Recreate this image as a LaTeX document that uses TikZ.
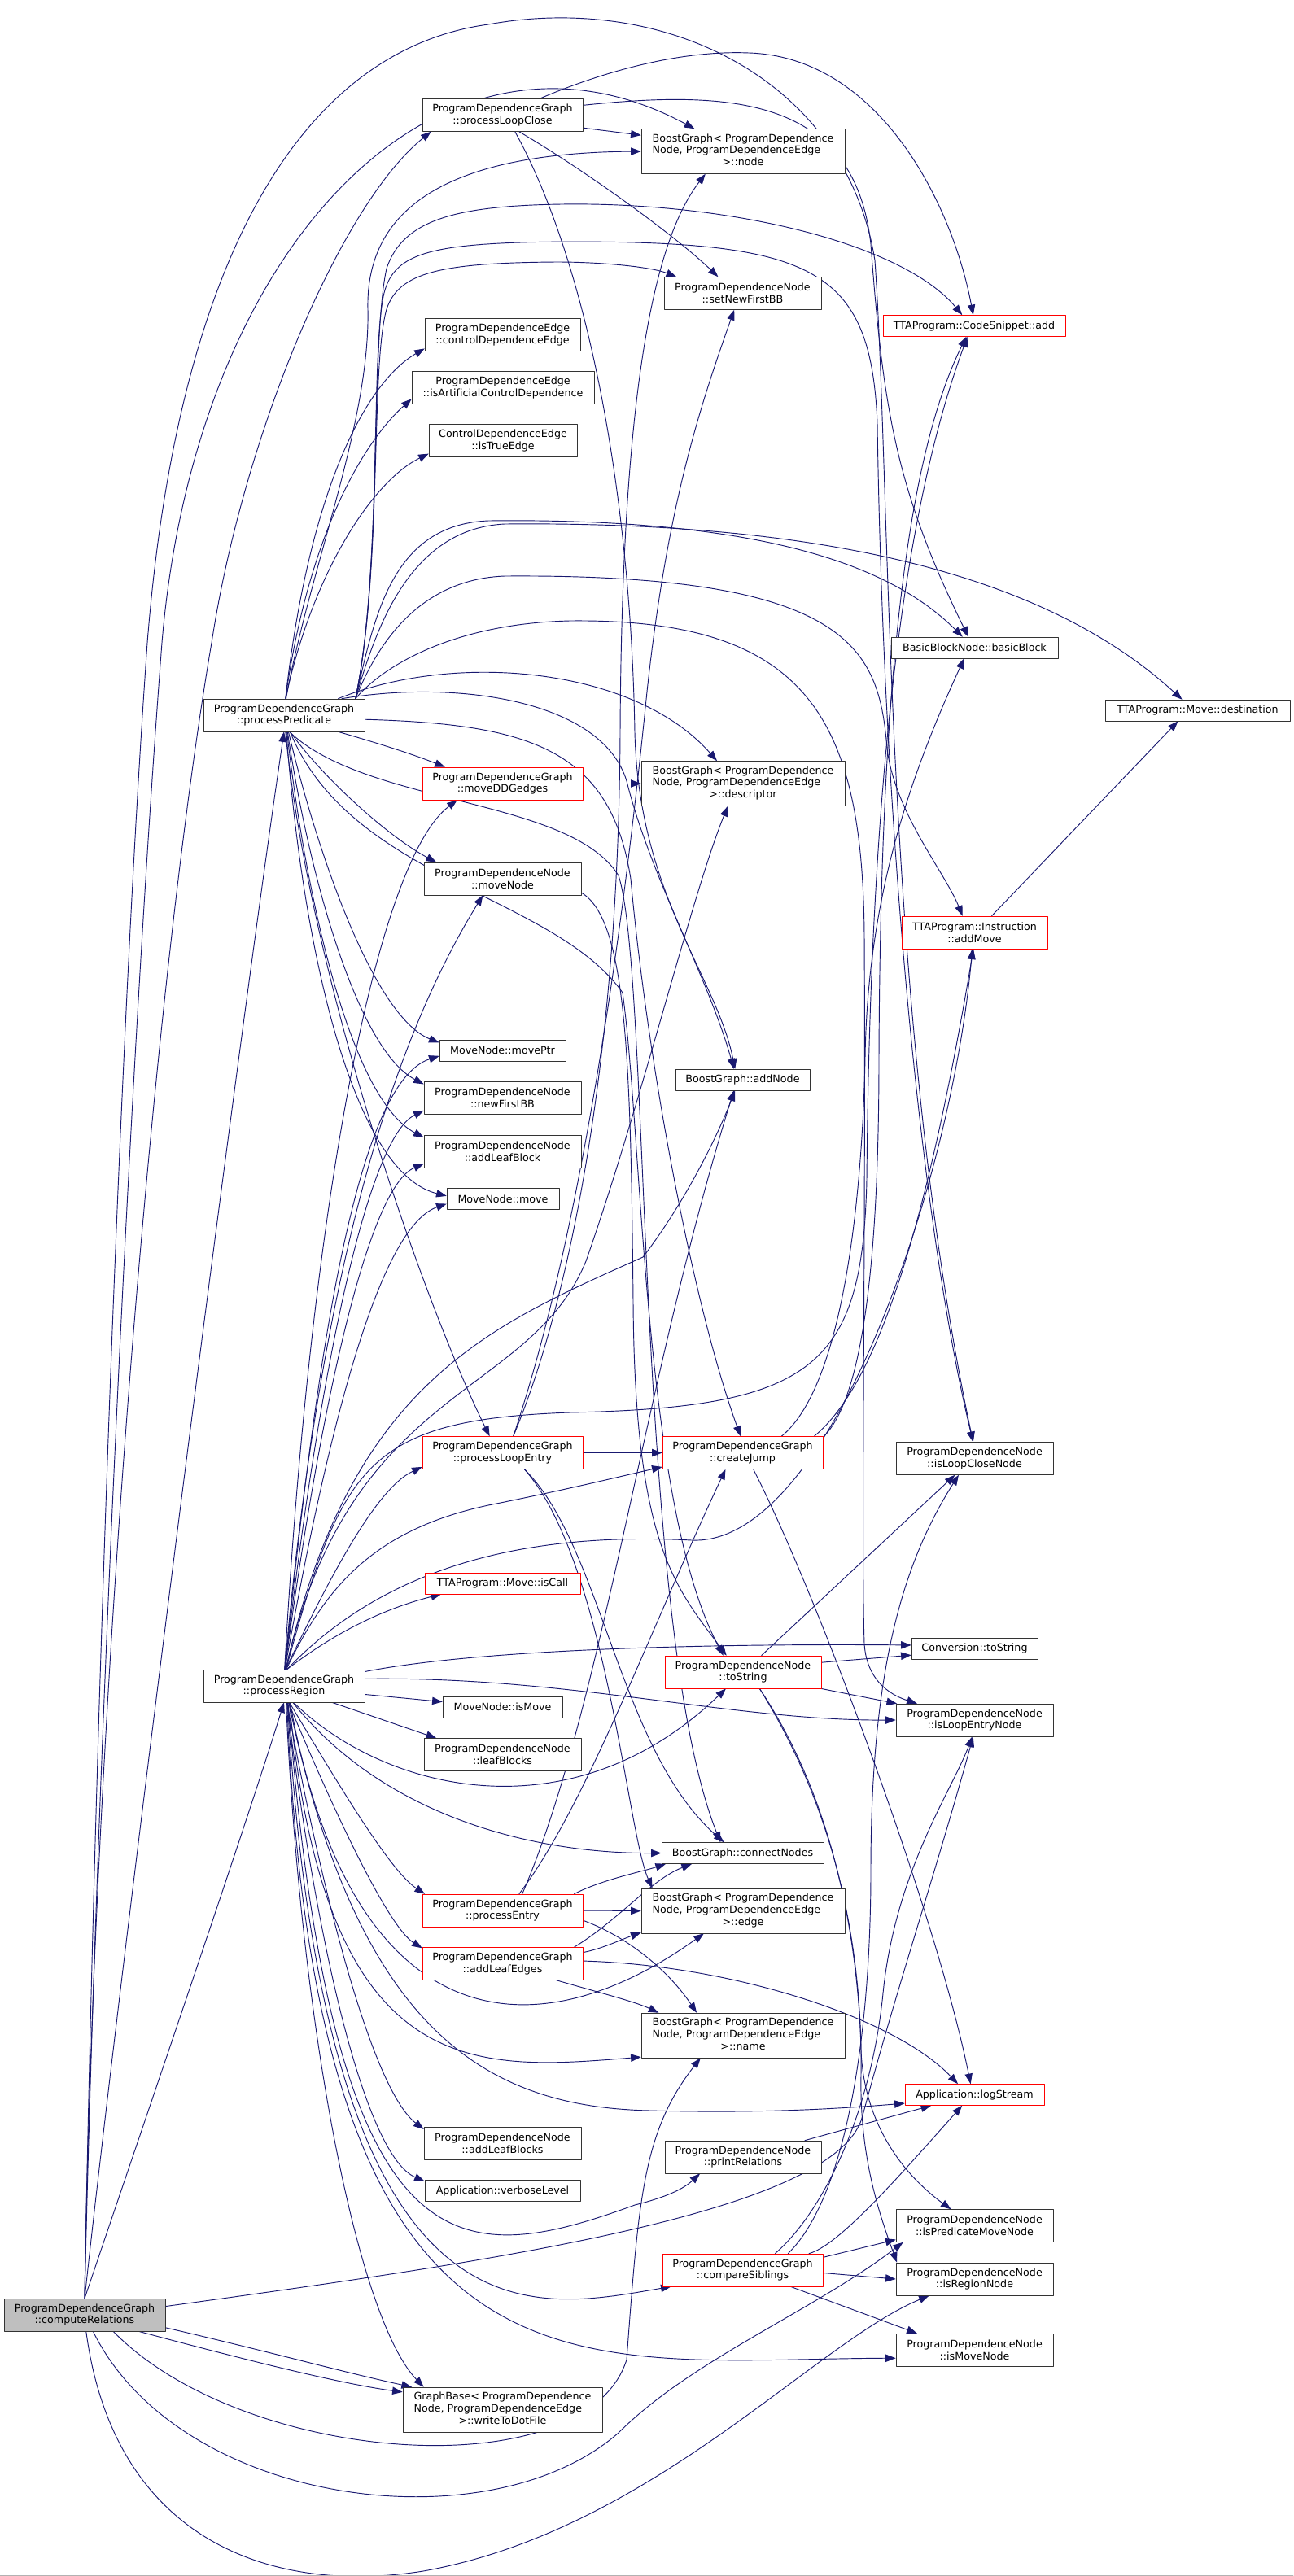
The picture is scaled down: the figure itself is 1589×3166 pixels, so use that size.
\documentclass[tikz,border=0pt]{standalone}
\usepackage{fontspec}
\newfontfamily\dxfont{DejaVu Sans}
\usetikzlibrary{arrows.meta}
\definecolor{edgeblue}{RGB}{25,25,112}
\pgfdeclarelayer{background}
\pgfsetlayers{background,main}
\newcommand{\bgtxt}[2]{\begin{tabular}{@{}l@{}}#1< ProgramDependence\\Node, ProgramDependenceEdge\\\multicolumn{1}{@{}c@{}}{>::#2}\end{tabular}}

\begin{document}
\begin{tikzpicture}[line cap=round,line join=round,x=0.75pt,y=-0.75pt,
  fn/.style={draw=black!80,fill=white,inner sep=0pt,align=center,font=\dxfont\fontsize{9.5}{11.1}\selectfont},
  wd/.style={minimum width=#1*0.75pt},
  one/.style={minimum height=19.5pt},
  two/.style={minimum height=30pt},
  three/.style={minimum height=41.25pt},
  hot/.style={draw=red},
  cl/.style={draw=edgeblue,line width=0.7pt,-{Triangle[length=9.5pt,width=7pt]}}]
\useasboundingbox (0,0) rectangle (1589,3166);
\draw[black!30] (0,3165) -- (1589,3165);
% callers
\node[fn,wd=198,two,fill=gray!50] (cr) at (104,2845) {ProgramDependenceGraph\\::computeRelations};
\node[fn,wd=198,two] (pp) at (349,879) {ProgramDependenceGraph\\::processPredicate};
\node[fn,wd=198,two] (pr) at (349,2072) {ProgramDependenceGraph\\::processRegion};
% third column
\node[fn,wd=197,two] (plc) at (617.5,141.5) {ProgramDependenceGraph\\::processLoopClose};
\node[fn,wd=191,two] (cde) at (617.5,411.5) {ProgramDependenceEdge\\::controlDependenceEdge};
\node[fn,wd=224,two] (iacd) at (618,476.5) {ProgramDependenceEdge\\::isArtificialControlDependence};
\node[fn,wd=182,two] (ite) at (618,541.5) {ControlDependenceEdge\\::isTrueEdge};
\node[fn,hot,wd=197,two] (mdd) at (617.5,963) {ProgramDependenceGraph\\::moveDDGedges};
\node[fn,wd=193,two] (mn) at (617.5,1080) {ProgramDependenceNode\\::moveNode};
\node[fn,wd=155,one] (moveptr) at (617.5,1291) {MoveNode::movePtr};
\node[fn,wd=193,two] (nfbb) at (617.5,1349.5) {ProgramDependenceNode\\::newFirstBB};
\node[fn,wd=193,two] (alb) at (617.5,1415) {ProgramDependenceNode\\::addLeafBlock};
\node[fn,wd=138,one] (mv) at (618,1473.5) {MoveNode::move};
\node[fn,hot,wd=197,two] (ple) at (617.5,1785.5) {ProgramDependenceGraph\\::processLoopEntry};
\node[fn,hot,wd=191,one] (iscall) at (617.5,1946) {TTAProgram::Move::isCall};
\node[fn,wd=147,one] (ismove) at (617.5,2098) {MoveNode::isMove};
\node[fn,wd=193,two] (lb) at (617.5,2156.5) {ProgramDependenceNode\\::leafBlocks};
\node[fn,hot,wd=197,two] (pe) at (617.5,2348) {ProgramDependenceGraph\\::processEntry};
\node[fn,hot,wd=197,two] (ale) at (617.5,2413.5) {ProgramDependenceGraph\\::addLeafEdges};
\node[fn,wd=193,two] (albs) at (617.5,2634) {ProgramDependenceNode\\::addLeafBlocks};
\node[fn,wd=191,one] (vl) at (617.5,2692.5) {Application::verboseLevel};
\node[fn,wd=245,three] (wtdf) at (617.5,2961.5) {\bgtxt{GraphBase}{writeToDotFile}};
% fourth column
\node[fn,wd=250,three] (bgnode) at (913,186) {\bgtxt{BoostGraph}{node}};
\node[fn,wd=193,two] (setnfbb) at (912.5,360.5) {ProgramDependenceNode\\::setNewFirstBB};
\node[fn,wd=250,three] (bgdesc) at (913,963) {\bgtxt{BoostGraph}{descriptor}};
\node[fn,wd=165,one] (addnode) at (912.5,1327) {BoostGraph::addNode};
\node[fn,hot,wd=197,two] (cj) at (912.5,1785.5) {ProgramDependenceGraph\\::createJump};
\node[fn,hot,wd=192,two] (pdnts) at (913,2055) {ProgramDependenceNode\\::toString};
\node[fn,wd=199,one] (cn) at (912.5,2277.5) {BoostGraph::connectNodes};
\node[fn,wd=250,three] (bgedge) at (913,2348.5) {\bgtxt{BoostGraph}{edge}};
\node[fn,wd=250,three] (bgname) at (913,2501.5) {\bgtxt{BoostGraph}{name}};
\node[fn,wd=192,two] (prel) at (913,2651) {ProgramDependenceNode\\::printRelations};
\node[fn,hot,wd=197,two] (cs) at (912.5,2790) {ProgramDependenceGraph\\::compareSiblings};
% fifth and sixth column
\node[fn,hot,wd=224,one] (csadd) at (1197,400.5) {TTAProgram::CodeSnippet::add};
\node[fn,wd=205,one] (bbnbb) at (1197.5,796) {BasicBlockNode::basicBlock};
\node[fn,hot,wd=179,two] (addmove) at (1197.5,1146) {TTAProgram::Instruction\\::addMove};
\node[fn,wd=193,two] (ilcn) at (1197.5,1792.5) {ProgramDependenceNode\\::isLoopCloseNode};
\node[fn,wd=155,one] (convts) at (1197.5,2026) {Conversion::toString};
\node[fn,wd=193,two] (ilen) at (1197.5,2114) {ProgramDependenceNode\\::isLoopEntryNode};
\node[fn,hot,wd=171,one] (logs) at (1197.5,2574.5) {Application::logStream};
\node[fn,wd=193,two] (ipmn) at (1197.5,2735.5) {ProgramDependenceNode\\::isPredicateMoveNode};
\node[fn,wd=193,two] (irn) at (1197.5,2801) {ProgramDependenceNode\\::isRegionNode};
\node[fn,wd=193,two] (imn) at (1197.5,2888) {ProgramDependenceNode\\::isMoveNode};
\node[fn,wd=227,one] (dest) at (1471.5,873) {TTAProgram::Move::destination};

\begin{pgfonlayer}{background}
% computeRelations
\draw[cl] (cr.north) .. controls (115,2100) and (190,1200) .. (260,790) .. controls (300,530) and (420,250) .. (plc.193);
\draw[cl] (cr.north) .. controls (118,2200) and (160,1300) .. (199,790) .. controls (240,300) and (540,-10) .. (bgnode.155);
\draw[cl] (cr.north) .. controls (115,2200) and (145,1300) .. (181,790) .. controls (220,300) and (380,60) .. (600,30) .. controls (820,-10) and (1040,100) .. (1075,320) .. controls (1095,600) and (1085,1250) .. (ilcn.95);
\draw[cl] (cr.north) .. controls (150,2400) and (290,1300) .. (pp.south);
\draw[cl] (cr.north) .. controls (180,2600) and (300,2250) .. (pr.south);
\draw[cl] (cr.6) .. controls (600,2780) and (1030,2720) .. (1060,2600) .. controls (1100,2450) and (1150,2300) .. (ilen.265);
\draw[cl] (cr.-9) .. controls (330,2890) and (420,2915) .. (wtdf.166);
\draw[cl] (cr.-17) .. controls (300,2900) and (420,2930) .. (wtdf.170);
\draw[cl] (cr.-30) .. controls (300,3030) and (720,3060) .. (770,2900) .. controls (785,2700) and (790,2620) .. (bgname.208);
\draw[cl] (cr.-63) .. controls (220,3080) and (600,3130) .. (760,2990) .. controls (850,2900) and (1000,2840) .. (ipmn.193);
\draw[cl] (cr.-85) .. controls (140,3120) and (330,3190) .. (520,3160) .. controls (800,3110) and (1000,2880) .. (irn.200);
% processPredicate
\draw[cl] (pp.85) .. controls (380,600) and (450,470) .. (cde.190);
\draw[cl] (pp.85) .. controls (380,650) and (450,540) .. (iacd.187);
\draw[cl] (pp.85) .. controls (385,700) and (460,590) .. (ite.190);
\draw[cl] (pp.83) .. controls (380,700) and (455,520) .. (452,380) .. controls (449,250) and (560,188) .. (bgnode.west);
\draw[cl] (pp.13) .. controls (470,700) and (455,420) .. (475,330) .. controls (495,270) and (560,253) .. (690,251) .. controls (900,248) and (1110,300) .. (csadd.138);
\draw[cl] (pp.13) .. controls (470,700) and (455,450) .. (475,380) .. controls (490,335) and (540,323) .. (684,322) .. controls (740,322) and (800,328) .. (setnfbb.166);
\draw[cl] (pp.13) .. controls (470,700) and (455,430) .. (472,360) .. controls (485,310) and (530,298) .. (700,297) .. controls (1000,297) and (1070,330) .. (1078,520) .. controls (1085,1000) and (1130,1500) .. (ilcn.95);
\draw[cl] (pp.13) .. controls (460,760) and (480,645) .. (600,640) .. controls (950,636) and (1100,700) .. (bbnbb.138);
\draw[cl] (pp.13) .. controls (460,780) and (500,650) .. (620,644) .. controls (1050,640) and (1300,720) .. (dest.145);
\draw[cl] (pp.13) .. controls (460,800) and (510,712) .. (620,708) .. controls (1050,705) and (1080,800) .. (1090,920) .. controls (1100,1000) and (1160,1070) .. (addmove.126);
\draw[cl] (pp.13) .. controls (460,830) and (540,767) .. (700,763) .. controls (990,760) and (1060,880) .. (1062,1150) .. controls (1064,1500) and (1058,1900) .. (1062,2020) .. controls (1065,2070) and (1100,2085) .. (ilen.164);
\draw[cl] (pp.17) .. controls (560,800) and (780,820) .. (bgdesc.139);
\draw[cl] (pp.16) .. controls (560,835) and (740,860) .. (770,960) .. controls (800,1080) and (870,1200) .. (addnode.129);
\draw[cl] (pp.-3) .. controls (650,890) and (750,920) .. (775,1080) .. controls (795,1300) and (850,1600) .. (cj.97);
\draw[cl] (pp.-17) .. controls (470,915) and (510,928) .. (mdd.164);
\draw[cl] (pp.-70) .. controls (400,960) and (480,1030) .. (mn.166);
\draw[cl] (pp.-75) .. controls (390,1050) and (460,1250) .. (moveptr.173);
\draw[cl] (pp.-78) .. controls (380,1080) and (440,1290) .. (nfbb.170);
\draw[cl] (pp.-80) .. controls (375,1100) and (430,1350) .. (alb.170);
\draw[cl] (pp.-82) .. controls (370,1150) and (430,1440) .. (mv.177);
\draw[cl] (pp.-85) .. controls (380,1200) and (520,1600) .. (ple.128);
\draw[cl] (pp.-72) .. controls (450,990) and (700,980) .. (760,1076) .. controls (800,1200) and (780,2000) .. (cn.154);
\draw[cl] (pp.-70) .. controls (430,1080) and (680,1100) .. (765,1220) .. controls (790,1400) and (790,1850) .. (pdnts.140);
% processLoopClose
\draw[cl] (plc.-9) -- (bgnode.171);
\draw[cl] (plc.24) .. controls (760,80) and (850,62) .. (920,65) .. controls (1080,70) and (1170,250) .. (csadd.95);
\draw[cl] (plc.-45) .. controls (720,210) and (830,290) .. (setnfbb.146);
\draw[cl] (plc.7) .. controls (900,110) and (1050,120) .. (1070,300) .. controls (1085,500) and (1100,600) .. (bbnbb.120);
\draw[cl] (plc.-53) .. controls (720,320) and (775,600) .. (780,900) .. controls (785,1100) and (880,1200) .. (addnode.125);
% processRegion, upwards
\draw[cl] (pr.88) .. controls (380,1500) and (460,1060) .. (mdd.200);
\draw[cl] (pr.88) .. controls (390,1600) and (470,1300) .. (mn.220);
\draw[cl] (pr.87) .. controls (390,1650) and (440,1330) .. (moveptr.185);
\draw[cl] (pr.87) .. controls (390,1700) and (450,1400) .. (nfbb.189);
\draw[cl] (pr.87) .. controls (390,1750) and (450,1460) .. (alb.189);
\draw[cl] (pr.87) .. controls (395,1800) and (460,1510) .. (mv.185);
\draw[cl] (pr.85) .. controls (400,1950) and (460,1830) .. (ple.190);
\draw[cl] (pr.80) .. controls (420,2000) and (480,1975) .. (iscall.190);
\draw[cl] (pr.82) .. controls (400,1950) and (460,1880) .. (600,1850) .. controls (700,1830) and (760,1815) .. (cj.190);
\draw[cl] (pr.83) .. controls (420,1800) and (450,1745) .. (700,1736) .. controls (1000,1730) and (1060,1680) .. (1065,1450) .. controls (1070,900) and (1120,600) .. (csadd.238);
\draw[cl] (pr.84) .. controls (430,1700) and (600,1630) .. (790,1545) .. controls (840,1480) and (880,1400) .. (addnode.235);
\draw[cl] (pr.84) .. controls (430,1700) and (650,1720) .. (720,1550) .. controls (790,1350) and (850,1100) .. (bgdesc.236);
\draw[cl] (pr.80) .. controls (450,1950) and (600,1880) .. (850,1893) .. controls (1020,1900) and (1170,1450) .. (addmove.262);
\draw[cl] (pr.10) .. controls (600,2025) and (900,2020) .. (convts.177);
\draw[cl] (pr.5) .. controls (700,2060) and (900,2115) .. (ilen.west);
\draw[cl] (pr.-6) -- (ismove.175);
\draw[cl] (pr.-19) -- (lb.166);
% processRegion, downwards
\draw[cl] (pr.-60) .. controls (470,2200) and (700,2260) .. (pdnts.224);
\draw[cl] (pr.-62) .. controls (470,2230) and (650,2278) .. (cn.west);
\draw[cl] (pr.-72) .. controls (420,2200) and (480,2300) .. (pe.168);
\draw[cl] (pr.-75) .. controls (420,2250) and (480,2370) .. (ale.169);
\draw[cl] (pr.-70) .. controls (430,2500) and (650,2530) .. (bgedge.210);
\draw[cl] (pr.-72) .. controls (400,2560) and (580,2545) .. (bgname.192);
\draw[cl] (pr.-74) .. controls (440,2500) and (600,2590) .. (800,2594) .. controls (950,2598) and (1050,2590) .. (logs.187);
\draw[cl] (pr.-80) .. controls (400,2350) and (460,2570) .. (albs.170);
\draw[cl] (pr.-80) .. controls (390,2400) and (450,2650) .. (vl.173);
\draw[cl] (pr.-76) .. controls (410,2800) and (560,2790) .. (780,2710) .. controls (820,2700) and (840,2690) .. (prel.201);
\draw[cl] (pr.-78) .. controls (400,2900) and (650,2840) .. (cs.193);
\draw[cl] (pr.-80) .. controls (390,2980) and (700,2900) .. (imn.186);
\draw[cl] (pr.-83) .. controls (370,2500) and (440,2850) .. (wtdf.164);
% processLoopEntry
\draw[cl] (ple.east) -- (cj.west);
\draw[cl] (ple.57) .. controls (700,1600) and (760,1300) .. (762,900) .. controls (764,500) and (800,300) .. (bgnode.211);
\draw[cl] (ple.57) .. controls (720,1500) and (770,1100) .. (795,850) .. controls (820,620) and (860,500) .. (setnfbb.243);
\draw[cl] (ple.-37) .. controls (740,1900) and (760,2150) .. (cn.150);
\draw[cl] (ple.-37) .. controls (745,1920) and (770,2250) .. (bgedge.166);
% moveDDGedges, moveNode
\draw[cl] (mdd.east) -- (bgdesc.west);
\draw[cl] (mn.-10) .. controls (770,1130) and (775,1300) .. (778,1600) .. controls (780,1900) and (830,1950) .. (pdnts.135);
% createJump
\draw[cl] (cj.23) .. controls (1040,1700) and (1060,1450) .. (1063,1300) .. controls (1066,1100) and (1120,950) .. (bbnbb.226);
\draw[cl] (cj.11) .. controls (1060,1720) and (1080,1550) .. (1080,1300) .. controls (1082,800) and (1120,550) .. (csadd.234);
\draw[cl] (cj.13) .. controls (1080,1700) and (1140,1500) .. (addmove.266);
\draw[cl] (cj.-57) .. controls (1000,1950) and (1150,2350) .. (logs.110);
% processEntry
\draw[cl] (pe.east) -- (bgedge.west);
\draw[cl] (pe.45) .. controls (720,2220) and (800,2000) .. (cj.224);
\draw[cl] (pe.40) .. controls (740,2100) and (790,1700) .. (addnode.231);
\draw[cl] (pe.13) .. controls (740,2310) and (790,2300) .. (cn.188);
\draw[cl] (pe.-7) .. controls (770,2380) and (820,2420) .. (bgname.154);
% addLeafEdges
\draw[cl] (ale.13) .. controls (760,2360) and (800,2310) .. (cn.192);
\draw[cl] (ale.8) .. controls (740,2395) and (760,2385) .. (bgedge.192);
\draw[cl] (ale.2) .. controls (900,2415) and (1100,2480) .. (logs.147);
\draw[cl] (ale.-17) .. controls (740,2450) and (780,2460) .. (bgname.165);
% toString
\draw[cl] (pdnts.42) -- (ilcn.220);
\draw[cl] (pdnts.7) -- (convts.186);
\draw[cl] (pdnts.-12) -- (ilen.168);
\draw[cl] (pdnts.-45) .. controls (1030,2230) and (1060,2400) .. (1058,2550) .. controls (1056,2650) and (1080,2720) .. (irn.168);
\draw[cl] (pdnts.-45) .. controls (1030,2220) and (1055,2400) .. (1058,2520) .. controls (1062,2620) and (1120,2680) .. (ipmn.145);
% compareSiblings
\draw[cl] (cs.9) -- (ipmn.190);
\draw[cl] (cs.-2) -- (irn.west);
\draw[cl] (cs.-19) -- (imn.164);
\draw[cl] (cs.14) .. controls (1030,2760) and (1100,2680) .. (logs.221);
\draw[cl] (cs.27) .. controls (1010,2720) and (1070,2600) .. (1085,2450) .. controls (1100,2300) and (1170,2200) .. (ilen.262);
\draw[cl] (cs.20) .. controls (1040,2700) and (1070,2500) .. (1070,2300) .. controls (1070,2050) and (1110,1920) .. (ilcn.226);
% printRelations, addMove
\draw[cl] (prel.15) -- (logs.194);
\draw[cl] (addmove.44) -- (dest.209);
\end{pgfonlayer}
\end{tikzpicture}
\end{document}
